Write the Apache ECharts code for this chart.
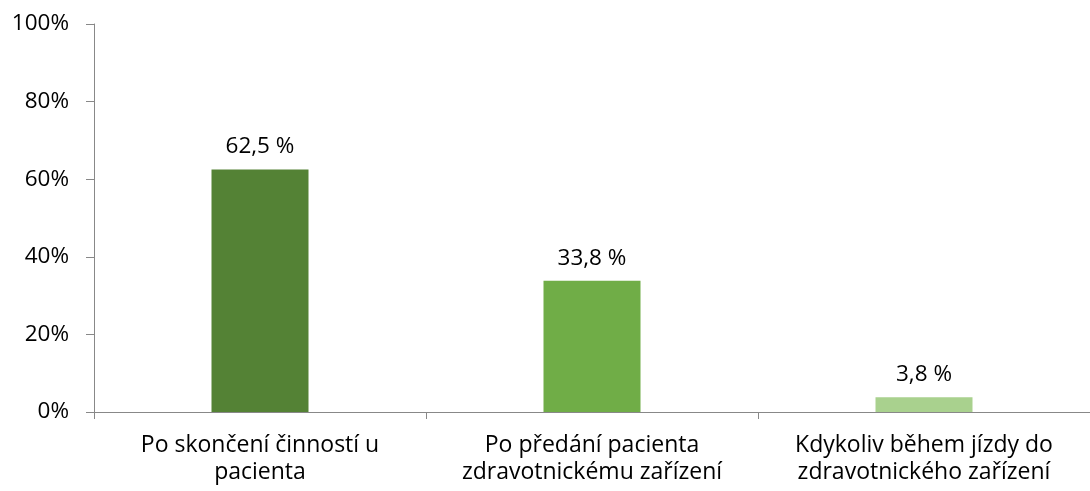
<!DOCTYPE html>
<html><head><meta charset="utf-8">
<script src="https://cdn.jsdelivr.net/npm/echarts@6/dist/echarts.min.js"></script>
<style>html,body{margin:0;padding:0;background:#fff}#c{width:1090px;height:491px}</style>
</head><body><div id="c"></div>
<script>
const categories = ["Po skončení činností u\npacienta", "Po předání pacienta\nzdravotnickému zařízení", "Kdykoliv během jízdy do\nzdravotnického zařízení"];
const values = [62.5, 33.8, 3.8];
const barColors = ["#548235", "#70AD47", "#A9D18E"];
const yTicks = [0, 20, 40, 60, 80, 100];

const FONT = 'Open Sans';
const chart = echarts.init(document.getElementById('c'), null, {renderer: 'canvas'});
chart.setOption({
  animation: false,
  grid: {left: 94, right: -6, top: 24, bottom: 79, containLabel: false},
  xAxis: {
    type: 'category', data: categories,
    axisLine: {lineStyle: {color: '#888888', width: 1}},
    axisTick: {show: true, length: 7, lineStyle: {color: '#888888'}},
    axisLabel: {color: '#000', fontFamily: FONT, fontSize: 23, lineHeight: 27, margin: 20, interval: 0}
  },
  yAxis: {
    type: 'value', min: 0, max: 100, interval: 20,
    axisLine: {show: true, lineStyle: {color: '#888888', width: 1}},
    axisTick: {show: true, length: 8, lineStyle: {color: '#888888'}},
    splitLine: {show: false},
    axisLabel: {color: '#000', fontFamily: FONT, fontSize: 22.5, margin: 25,
      formatter: v => yTicks.includes(v) ? v + '%' : ''}
  },
  series: [{
    type: 'bar', barWidth: 97,
    data: values.map((v, i) => ({value: v, itemStyle: {color: barColors[i]}})),
    label: {show: true, position: 'top', distance: 11, color: '#000', fontFamily: FONT, fontSize: 22.5,
      formatter: p => String(p.value).replace('.', ',') + ' %'}
  }]
});
</script></body></html>
